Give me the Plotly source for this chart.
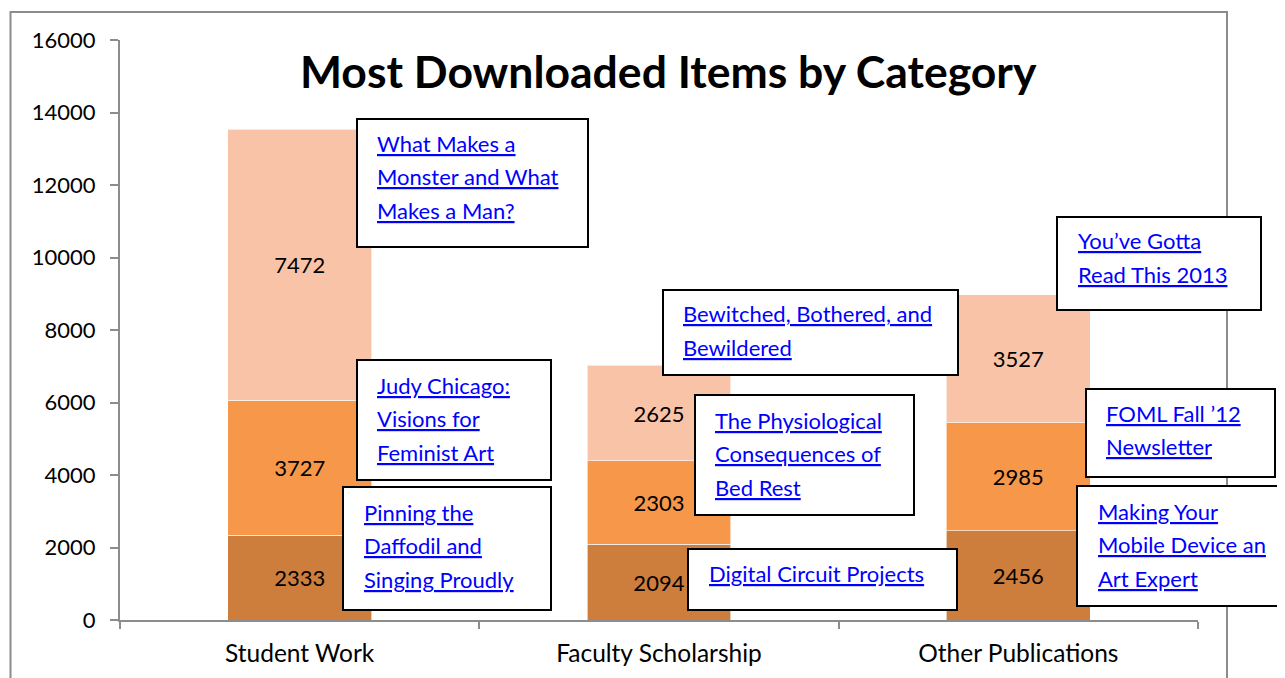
import plotly.graph_objects as go

# ---- data ----
categories = ["Student Work", "Faculty Scholarship", "Other Publications"]
bottom_vals = [2333, 2094, 2456]
middle_vals = [3727, 2303, 2985]
top_vals = [7472, 2625, 3527]

# top item titles per category/segment (text of callouts)
item_titles = [
    ["What Makes a", "Monster and What", "Makes a Man?"],
    ["Judy Chicago:", "Visions for", "Feminist Art"],
    ["Pinning the", "Daffodil and", "Singing Proudly"],
    ["Bewitched, Bothered, and", "Bewildered"],
    ["The Physiological", "Consequences of", "Bed Rest"],
    ["Digital Circuit Projects"],
    ["You\u2019ve Gotta", "Read This 2013"],
    ["FOML Fall \u201912", "Newsletter"],
    ["Making Your", "Mobile Device an", "Art Expert"],
]

# ---- layout helpers (screen pixel geometry; page body has an 8px margin) ----
OFF = 8
W, H = 1285 - OFF, 678 - OFF
PLOT_X0, PLOT_X1, PLOT_Y0, PLOT_Y1 = 120, 1198, 40, 620  # screen px
L = PLOT_X0 - OFF
T = PLOT_Y0 - OFF
R = W - (PLOT_X1 - OFF)
B = H - (PLOT_Y1 - OFF)
PW, PH = PLOT_X1 - PLOT_X0, PLOT_Y1 - PLOT_Y0


def px(x):
    return (x - PLOT_X0) / PW


def py(y):
    return (PLOT_Y1 - y) / PH


# callout boxes: (x0, y0, x1, y1) in screen pixels, text left x, first line y
callout_layout = [
    ((357, 119, 588, 247), 375, 143),
    ((357, 360, 551, 480), 375, 385),
    ((343, 487, 551, 610), 362, 512),
    ((663, 290, 958, 375), 681, 314),
    ((695, 395, 914, 515), 713, 420),
    ((688, 549, 957, 610), 707, 573),
    ((1057, 217, 1261, 310), 1076, 241),
    ((1086, 389, 1275, 477), 1104, 413),
    ((1077, 486, 1310, 606), 1096, 511),
]
LINE_STEP = 33.5

FONT = "Lato, 'Open Sans', sans-serif"
colors = ["#CD7D3C", "#F69749", "#F9C3A8"]

fig = go.Figure()
for vals, col in zip([bottom_vals, middle_vals, top_vals], colors):
    fig.add_trace(go.Bar(
        x=categories, y=vals, width=0.4,
        marker=dict(color=col, line=dict(color="rgba(255,255,255,0.6)", width=1)),
        text=[str(v) for v in vals], textposition="inside",
        insidetextanchor="middle", textangle=0,
        textfont=dict(family=FONT, size=22, color="black"),
        hoverinfo="skip", showlegend=False,
    ))

shapes = []
annotations = []
# outer chart border
shapes.append(dict(type="rect", xref="paper", yref="paper",
                   x0=px(10.5), x1=px(1227), y0=py(12), y1=py(720),
                   line=dict(color="#8C8C8C", width=2), fillcolor="rgba(0,0,0,0)",
                   layer="below"))

for lines, (box, tx, ty) in zip(item_titles, callout_layout):
    x0, y0, x1, y1 = box
    shapes.append(dict(type="rect", xref="paper", yref="paper",
                       x0=px(x0), x1=px(x1), y0=py(y1), y1=py(y0),
                       line=dict(color="black", width=2), fillcolor="white",
                       layer="above"))
    for i, ln in enumerate(lines):
        annotations.append(dict(
            xref="paper", yref="paper", x=px(tx), y=py(ty + i * LINE_STEP),
            xanchor="left", yanchor="middle", showarrow=False,
            text=ln,
            font=dict(family=FONT, size=22, color="#0000FF", lineposition="under"),
        ))

annotations.append(dict(
    xref="paper", yref="paper", x=px(668), y=py(70),
    xanchor="center", yanchor="middle", showarrow=False,
    text="<b>Most Downloaded Items by Category</b>",
    font=dict(family=FONT, size=44.5, color="black"),
))

fig.update_layout(
    width=W, height=H,
    margin=dict(l=L, r=R, t=T, b=B),
    paper_bgcolor="white", plot_bgcolor="white",
    barmode="stack",
    font=dict(family=FONT, size=22, color="black"),
    shapes=shapes, annotations=annotations,
    xaxis=dict(showline=True, linecolor="#8C8C8C", linewidth=2,
               ticks="outside", tickson="boundaries", ticklen=7,
               tickcolor="#8C8C8C", tickwidth=2, showgrid=False,
               tickfont=dict(family=FONT, size=24.5, color="black"),
               ticklabelstandoff=11),
    yaxis=dict(range=[0, 16000], dtick=2000, showline=True,
               linecolor="#8C8C8C", linewidth=2, ticks="outside", ticklen=8,
               tickcolor="#8C8C8C", tickwidth=2, showgrid=False, zeroline=False,
               tickformat="d",
               tickfont=dict(family=FONT, size=22, color="black"),
               ticklabelstandoff=10),
)

fig.write_html("out.html")
